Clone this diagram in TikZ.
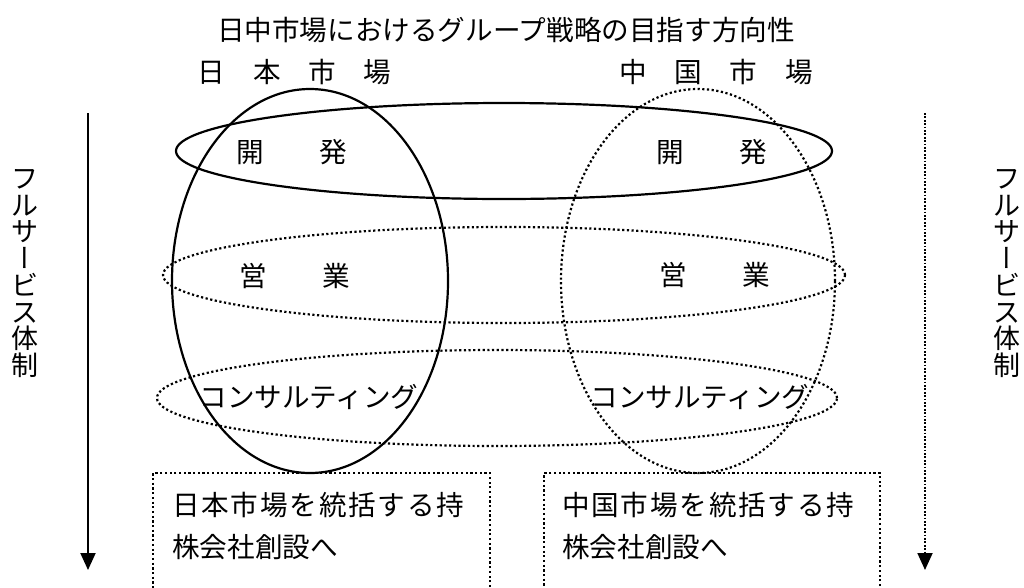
\documentclass[tikz,border=0pt]{standalone}
\usepackage{fontspec}
\setmainfont{Noto Sans CJK JP}
\newfontfamily\jpwide[LetterSpace=6.5]{Noto Sans CJK JP}
\usetikzlibrary{arrows.meta,shapes.geometric}
\tikzset{
  txt/.style={font=\fontsize{27.6}{30}\selectfont, inner sep=0pt},
  solidline/.style={line width=2.2pt},
  dotline/.style={line width=2.2pt, dash pattern=on 2.2pt off 2.5pt},
  finedot/.style={line width=1.8pt, dash pattern=on 1.8pt off 1.6pt},
  oval/.style={ellipse, inner sep=0pt, outer sep=0pt},
  vtext/.style={align=center, inner sep=0pt, font=\fontsize{27}{26.7}\selectfont},
  boxtext/.style={align=left, inner sep=0pt, font=\fontsize{27.6}{42}\selectfont},
  arrowtip/.style={-{Triangle[length=17pt,width=15pt]}}
}
\newcommand{\vbar}{{\addfontfeature{RawFeature=+vert}ー}}
\begin{document}
\begin{tikzpicture}[x=1pt,y=-1pt]
\path[use as bounding box] (0,0) rectangle (1024,587);
\clip (0,0) rectangle (1024,587);

% title and headers
\node[txt] (title) at (506,30) {日中市場におけるグループ戦略の目指す方向性};
\node[txt] (jphead) at (294.5,72) {日　本　市　場};
\node[txt] (cnhead) at (716,72) {中　国　市　場};

% vertical market ellipses
\node[oval, draw, solidline, minimum width=276pt, minimum height=384pt] (jpcol) at (310,281) {};
\node[oval, draw, dotline, minimum width=274pt, minimum height=384pt] (cncol) at (698,281) {};

% horizontal function ellipses
\node[oval, draw, solidline, minimum width=656pt, minimum height=96pt] (devrow) at (504,151) {};
\node[oval, draw, dotline, minimum width=682pt, minimum height=96pt] (salesrow) at (504,275) {};
\node[oval, draw, dotline, minimum width=680pt, minimum height=96pt] (consrow) at (497,398) {};

% labels
\node[txt] (jpdev) at (291.5,152) {開　　発};
\node[txt] (cndev) at (711.5,152) {開　　発};
\node[txt] (jpsales) at (294.5,276) {営　　業};
\node[txt] (cnsales) at (714.5,275) {営　　業};
\node[txt] (jpcons) at (309,397) {コンサルティング};
\node[txt] (cncons) at (700,397) {コンサルティング};

% holding company boxes (open at the bottom edge)
\node[draw, dotline, anchor=north west, minimum width=337pt, minimum height=200pt, inner sep=0pt] (jpbox) at (152,472) {};
\node[draw, dotline, anchor=north west, minimum width=336pt, minimum height=200pt, inner sep=0pt] (cnbox) at (543,472) {};
\node[boxtext, anchor=base west] (jpboxtext) at (172,557.5) {{\jpwide 日本市場を統括する持}\\株会社創設へ};
\node[boxtext, anchor=base west] (cnboxtext) at (562,557.5) {{\jpwide 中国市場を統括する持}\\株会社創設へ};

% side arrows
\coordinate (lstart) at (88,113);
\coordinate (lend) at (88,570);
\draw[line width=2pt, arrowtip] (lstart) -- (lend);
\coordinate (rstart) at (925,113);
\coordinate (rend) at (925,570);
\draw[finedot, arrowtip] (rstart) -- (rend);

% vertical texts
\node[vtext] (lvert) at (25,273.5) {フ\\ル\\サ\\\vbar\\ビ\\ス\\体\\制};
\node[vtext] (rvert) at (1007,273.5) {フ\\ル\\サ\\\vbar\\ビ\\ス\\体\\制};
\end{tikzpicture}
\end{document}
